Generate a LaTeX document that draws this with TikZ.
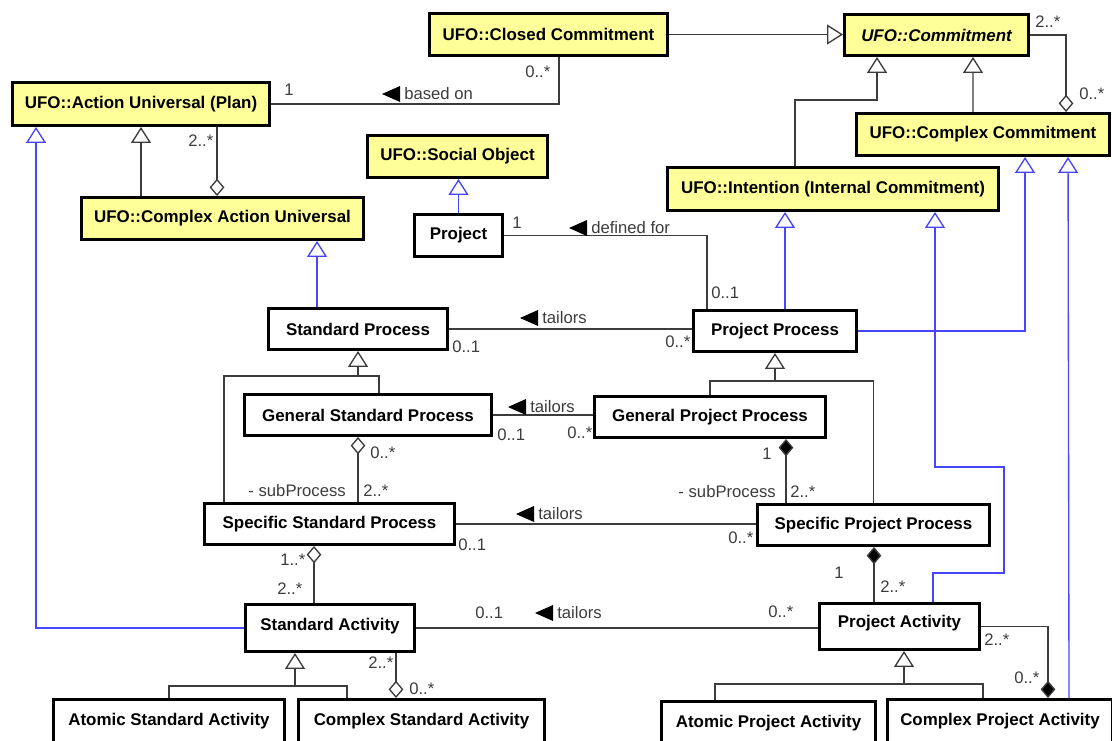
\documentclass[tikz,border=0pt]{standalone}
\usepackage{fontspec}
\setmainfont{Liberation Sans}
\usetikzlibrary{arrows.meta, calc}
\newcommand{\pxu}{0.75pt}
\definecolor{ufoyellow}{RGB}{255,255,153}
\definecolor{genblue}{RGB}{70,70,255}
\definecolor{linegray}{RGB}{60,60,60}
\tikzset{
    klass/.style={
        draw,
        line width=2.2pt,
        fill=white,
        inner sep=0pt,
        align=center,
        font=\bfseries\fontsize{12.7}{15}\selectfont
    },
    ufo/.style={klass, fill=ufoyellow},
    abstract/.style={font=\bfseries\itshape\fontsize{12.7}{15}\selectfont},
    assoc/.style={draw=linegray, line width=1pt},
    gen/.style={assoc, -{Triangle[open, length=12pt, width=15pt, fill=white]}},
    bgen/.style={gen, draw=genblue},
    agg/.style={assoc, -{Diamond[open, length=13pt, width=11pt, fill=white]}},
    comp/.style={assoc, -{Diamond[length=13pt, width=11pt, fill=black]}},
    mult/.style={inner sep=0pt, text=linegray, font=\fontsize{12.5}{14}\selectfont}
}
% reading direction label: filled triangle in front of the text
\newcommand{\readdir}[4]{%
    \node[mult, anchor=west] (#1) at (#2,#3) {#4};
    \fill ($(#1.west)+(-22,0)$) -- ++(18,-8) -- ++(0,16) -- cycle;}

\begin{document}
\begin{tikzpicture}[x=\pxu, y=-\pxu]
\useasboundingbox (0,0) rectangle (1112,740);
\clip (0,0) rectangle (1112,740);

% UFO classes
\node[ufo, minimum width=238*\pxu, minimum height=42*\pxu] (closed) at (548.5,34.5) {UFO::Closed Commitment};
\node[ufo, abstract, minimum width=184*\pxu, minimum height=41*\pxu] (commit) at (936.5,35) {UFO::Commitment};
\node[ufo, minimum width=257*\pxu, minimum height=43*\pxu] (action) at (141,104) {UFO::Action Universal (Plan)};
\node[ufo, minimum width=253*\pxu, minimum height=42*\pxu] (cplxcommit) at (983,134.5) {UFO::Complex Commitment};
\node[ufo, minimum width=180*\pxu, minimum height=42*\pxu] (social) at (457.5,156.5) {UFO::Social Object};
\node[ufo, minimum width=331*\pxu, minimum height=43*\pxu] (intention) at (833,189) {UFO::Intention (Internal Commitment)};
\node[ufo, minimum width=282*\pxu, minimum height=42*\pxu] (cplxaction) at (222.5,218.5) {UFO::Complex Action Universal};

% process classes
\node[klass, minimum width=88*\pxu, minimum height=42*\pxu] (project) at (458.5,235.5) {Project};
\node[klass, minimum width=179*\pxu, minimum height=41*\pxu] (stdproc) at (358,329) {Standard Process};
\node[klass, minimum width=163*\pxu, minimum height=41*\pxu] (projproc) at (775,331) {Project Process};
\node[klass, minimum width=247*\pxu, minimum height=41*\pxu] (genstd) at (368,415) {General Standard Process};
\node[klass, minimum width=231*\pxu, minimum height=41*\pxu] (genproj) at (710,417) {General Project Process};
\node[klass, minimum width=250*\pxu, minimum height=41*\pxu] (specstd) at (329.5,524) {Specific Standard Process};
\node[klass, minimum width=232*\pxu, minimum height=41*\pxu] (specproj) at (873.5,525) {Specific Project Process};

% activity classes
\node[klass, minimum width=169*\pxu, minimum height=47*\pxu, text depth=6pt] (stdact) at (330,628) {Standard Activity};
\node[klass, minimum width=160*\pxu, minimum height=46*\pxu, text depth=7pt] (projact) at (899.5,626.5) {Project Activity};
\node[klass, minimum width=231*\pxu, minimum height=43*\pxu] (atomstd) at (169,721) {Atomic Standard Activity};
\node[klass, minimum width=246*\pxu, minimum height=43*\pxu] (cplxstd) at (421.5,721) {Complex Standard Activity};
\node[klass, minimum width=214*\pxu, minimum height=43*\pxu] (atomproj) at (768.5,723) {Atomic Project Activity};
\node[klass, minimum width=225*\pxu, minimum height=43*\pxu] (cplxproj) at (1000,721) {Complex Project Activity};

% generalizations
\draw[gen] (closed.east) -- (closed.east -| commit.west);
\draw[gen] (action.south |- cplxaction.north) -- (action.south);
\draw[gen] ($(intention.north)+(-38,0)$) -- ++(0,-66) -| ($(commit.south west)+(34,0)$);
\draw[gen] ($(cplxcommit.north)+(-10,0)$) -- ($(commit.south west)+(130,0)$);

\coordinate (stdjoin) at (358,376);
\draw[assoc] ($(genstd.north)+(11,0)$) |- (stdjoin);
\draw[gen] ($(specstd.north)+(-105.5,0)$) |- (stdjoin) -- (stdproc.south);

\coordinate (projjoin) at (775,381);
\draw[assoc] (genproj.north) |- (projjoin);
\draw[gen] (specproj.north) |- (projjoin) -- (projproc.south);

\coordinate (actjoin) at (295,686);
\draw[assoc] (atomstd.north) |- (actjoin);
\draw[gen] ($(cplxstd.north)+(-74.5,0)$) |- (actjoin) -- (actjoin |- stdact.south);

\coordinate (pactjoin) at (904,684);
\draw[assoc] ($(atomproj.north)+(-53.5,0)$) |- (pactjoin);
\draw[gen] ($(cplxproj.north)+(-17,0)$) |- (pactjoin) -- (pactjoin |- projact.south);

% generalizations to UFO (blue)
\draw[bgen] (project.north) -- (project.north |- social.south);
\draw[bgen] (stdact.west) -| ($(action.south west)+(25,0)$);
\draw[bgen] ($(stdproc.north west)+(50,0)$) -- ($(cplxaction.south west)+(237,0)$);
\draw[bgen] ($(projproc.north)+(10,0)$) -- ($(intention.south)+(-48,0)$);
\draw[bgen] (projproc.east) -| ($(cplxcommit.south west)+(170,0)$);
\draw[bgen] ($(projact.north)+(33.5,0)$) -- ++(0,-29) -- ++(71,0) -- ++(0,-106) -| ($(intention.south)+(102,0)$);
\draw[bgen] ($(cplxproj.north)+(69,0)$) -- ($(cplxcommit.south west)+(213,0)$);

% associations
\draw[assoc] ($(closed.south west)+(131,0)$) |- (action.east);
\draw[assoc] (project.east) -| ($(projproc.north west)+(15,0)$);
\draw[assoc] (stdproc.east) -- (stdproc.east -| projproc.west);
\draw[assoc] (genstd.east) -- (genstd.east -| genproj.west);
\draw[assoc] (specstd.east) -- (specstd.east -| specproj.west);
\draw[assoc] (stdact.east) -- (stdact.east -| projact.west);

% wholes and parts
\draw[agg] ($(action.south west)+(206,0)$) -- ($(cplxaction.north west)+(137,0)$);
\draw[agg] (commit.east) -| ($(cplxcommit.north west)+(211,0)$);
\draw[agg] ($(specstd.north)+(28.5,0)$) -- ($(genstd.south)+(-10,0)$);
\draw[comp] ($(specproj.north)+(-87.5,0)$) -- ($(genproj.south)+(76,0)$);
\draw[agg] ($(stdact.north)+(-16,0)$) -- ($(specstd.south)+(-15.5,0)$);
\draw[comp] ($(projact.north)+(-25.5,0)$) -- ($(specproj.south)+(0.5,0)$);
\draw[agg] ($(stdact.south)+(66,0)$) -- ($(cplxstd.north)+(-25.5,0)$);
\draw[comp] (projact.east) -| ($(cplxproj.north)+(48,0)$);

% multiplicities and names
\node[mult, anchor=west] (m1) at (525,72) {0..*};
\node[mult, anchor=west] (m2) at (284,90) {1};
\readdir{basedon}{404}{94}{based on}
\node[mult, anchor=west] (m3) at (188,141) {2..*};
\node[mult, anchor=west] (m4) at (1035,22) {2..*};
\node[mult, anchor=west] (m5) at (1079,94) {0..*};
\node[mult, anchor=west] (m6) at (512,223) {1};
\readdir{definedfor}{591}{228}{defined for}
\node[mult, anchor=west] (m7) at (711,293) {0..1};
\readdir{tailors1}{542}{318}{tailors}
\node[mult, anchor=west] (m8) at (452,347) {0..1};
\node[mult, anchor=west] (m9) at (665,342) {0..*};
\readdir{tailors2}{530}{407}{tailors}
\node[mult, anchor=west] (m10) at (497,435) {0..1};
\node[mult, anchor=west] (m11) at (567,433) {0..*};
\node[mult, anchor=west] (m12) at (370,453) {0..*};
\node[mult, anchor=east] (sub1) at (346,491) {- subProcess};
\node[mult, anchor=west] (m13) at (363,491) {2..*};
\readdir{tailors3}{538}{514}{tailors}
\node[mult, anchor=west] (m14) at (458,545) {0..1};
\node[mult, anchor=west] (m15) at (728,538) {0..*};
\node[mult, anchor=west] (m16) at (762,454) {1};
\node[mult, anchor=east] (sub2) at (776,492) {- subProcess};
\node[mult, anchor=west] (m17) at (790,492) {2..*};
\node[mult, anchor=west] (m18) at (280,560) {1..*};
\node[mult, anchor=west] (m19) at (277,589) {2..*};
\node[mult, anchor=west] (m20) at (475,613) {0..1};
\readdir{tailors4}{557}{613}{tailors}
\node[mult, anchor=west] (m21) at (768,612) {0..*};
\node[mult, anchor=west] (m22) at (368,663) {2..*};
\node[mult, anchor=west] (m23) at (409,689) {0..*};
\node[mult, anchor=west] (m24) at (834,573) {1};
\node[mult, anchor=west] (m25) at (880,587) {2..*};
\node[mult, anchor=west] (m26) at (984,640) {2..*};
\node[mult, anchor=west] (m27) at (1014,678) {0..*};
\end{tikzpicture}
\end{document}
